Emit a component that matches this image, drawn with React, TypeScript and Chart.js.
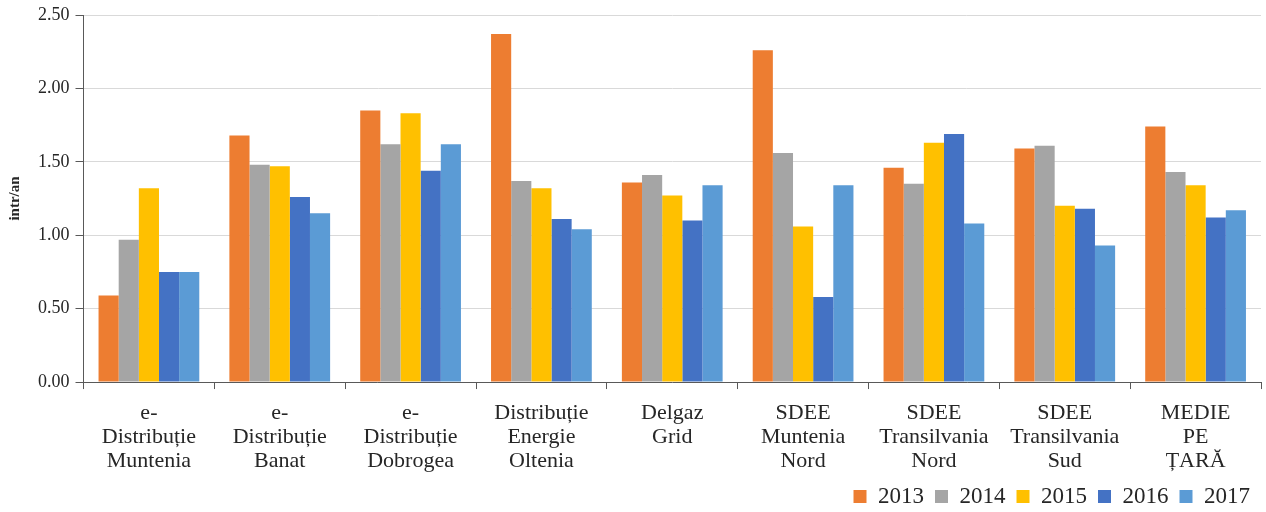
import React, { useEffect, useRef } from "react";
import { Chart, registerables } from "chart.js";

Chart.register(...registerables);

const categories: string[][] = [
  ["e-", "Distribuție", "Muntenia"],
  ["e-", "Distribuție", "Banat"],
  ["e-", "Distribuție", "Dobrogea"],
  ["Distribuție", "Energie", "Oltenia"],
  ["Delgaz", "Grid"],
  ["SDEE", "Muntenia", "Nord"],
  ["SDEE", "Transilvania", "Nord"],
  ["SDEE", "Transilvania", "Sud"],
  ["MEDIE", "PE", "ȚARĂ"],
];

const years = ["2013", "2014", "2015", "2016", "2017"];
const colors = ["#ED7D31", "#A5A5A5", "#FFC000", "#4472C4", "#5B9BD5"];

const v2013 = [0.59, 1.68, 1.85, 2.37, 1.36, 2.26, 1.46, 1.59, 1.74];
const v2014 = [0.97, 1.48, 1.62, 1.37, 1.41, 1.56, 1.35, 1.61, 1.43];
const v2015 = [1.32, 1.47, 1.83, 1.32, 1.27, 1.06, 1.63, 1.2, 1.34];
const v2016 = [0.75, 1.26, 1.44, 1.11, 1.1, 0.58, 1.69, 1.18, 1.12];
const v2017 = [0.75, 1.15, 1.62, 1.04, 1.34, 1.34, 1.08, 0.93, 1.17];

const series = [v2013, v2014, v2015, v2016, v2017];

const FONT = "'Liberation Serif', 'Times New Roman', serif";

export default function App() {
  const ref = useRef<HTMLCanvasElement | null>(null);

  useEffect(() => {
    document.body.style.margin = "0";
    const ctx = ref.current;
    if (!ctx) return;
    const chart = new Chart(ctx, {
      type: "bar",
      data: {
        labels: categories,
        datasets: series.map((d, i) => ({
          label: years[i],
          data: d,
          backgroundColor: colors[i],
          borderWidth: 0,
          barPercentage: 1,
          categoryPercentage: 0.77,
        })),
      },
      options: {
        animation: false,
        responsive: false,
        maintainAspectRatio: false,
        layout: { padding: { top: 2, right: 5, left: 6, bottom: -6 } },
        plugins: {
          tooltip: { enabled: false },
          legend: {
            position: "bottom",
            align: "end",
            labels: {
              boxWidth: 13,
              boxHeight: 13,
              padding: 11,
              color: "#262626",
              font: { family: FONT, size: 23 },
            },
          },
        },
        scales: {
          x: {
            afterFit: (scale: any) => {
              scale.height -= 11;
            },
            border: { display: true, color: "#595959", width: 1 },
            grid: {
              display: true,
              drawOnChartArea: false,
              drawTicks: true,
              tickLength: 7,
              tickColor: "#595959",
              offset: true,
            },
            ticks: {
              color: "#262626",
              font: { family: FONT, size: 22, lineHeight: 1.09 },
              maxRotation: 0,
              autoSkip: false,
              padding: 12,
            },
          },
          y: {
            min: 0,
            max: 2.5,
            border: { display: true, color: "#595959", width: 1 },
            grid: {
              color: "#d9d9d9",
              lineWidth: 1,
              drawTicks: true,
              tickLength: 8,
              tickColor: "#595959",
            },
            ticks: {
              stepSize: 0.5,
              color: "#262626",
              font: { family: FONT, size: 18, lineHeight: 1.0 },
              padding: 6,
              callback: (v: any) => Number(v).toFixed(2),
            },
            title: {
              display: true,
              text: "intr/an",
              color: "#262626",
              font: { family: FONT, size: 15, weight: "bold" },
              padding: { top: 0, bottom: 8 },
            },
          },
        },
      },
    });
    return () => chart.destroy();
  }, []);

  return (
    <div style={{ width: 1266, height: 512 }}>
      <canvas ref={ref} width={1266} height={512} style={{ width: 1266, height: 512, display: "block" }} />
    </div>
  );
}
